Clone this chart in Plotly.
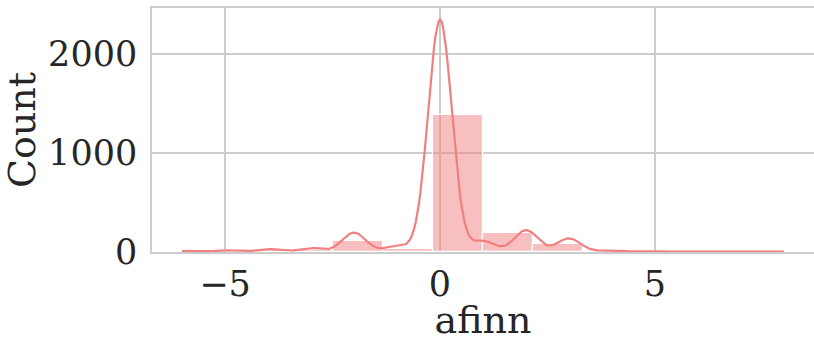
import numpy as np
import plotly.graph_objects as go

# afinn score values and how often each occurs
scores = [-6, -5, -4, -3, -2, -1, 0, 1, 2, 3, 4, 5, 6, 7, 8]
counts = [5, 10, 17, 24, 115, 35, 1384, 65, 130, 81, 11, 5, 4, 3, 3]

n_bins = 12
kde_bandwidth = 0.275

values = np.repeat(scores, counts).astype(float)
lo, hi = values.min(), values.max()
hist_counts, edges = np.histogram(values, bins=n_bins, range=(lo, hi))
bin_w = edges[1] - edges[0]
centers = (edges[:-1] + edges[1:]) / 2

# Gaussian KDE scaled to counts (as seaborn histplot kde=True)
grid = np.linspace(lo, hi, 400)
sc = np.array(scores, float)
cn = np.array(counts, float)
dens = (cn[None, :] * np.exp(-0.5 * ((grid[:, None] - sc[None, :]) / kde_bandwidth) ** 2)
        / (np.sqrt(2 * np.pi) * kde_bandwidth)).sum(axis=1)
kde_counts = dens * bin_w

line_color = "rgb(240,128,128)"
bar_color = "rgba(240,128,128,0.5)"

fig = go.Figure()
fig.add_trace(go.Bar(
    x=centers, y=hist_counts, width=bin_w,
    marker=dict(color=bar_color, line=dict(color="white", width=1.2)),
    hoverinfo="x+y", showlegend=False,
))
fig.add_trace(go.Scatter(
    x=grid, y=kde_counts, mode="lines",
    line=dict(color=line_color, width=2.2), showlegend=False,
))

pad_x = 0.05 * (hi - lo)
ymax = kde_counts.max() * 1.05

font = "DejaVu Serif"
fig.update_layout(
    width=814, height=342,
    margin=dict(l=152, r=0, t=8, b=90),
    paper_bgcolor="white", plot_bgcolor="white",
    font=dict(family=font, color="#262626", size=35),
    bargap=0,
    xaxis=dict(
        range=[lo - pad_x, hi + pad_x],
        tickvals=[-5, 0, 5],
        showgrid=True, gridcolor="#cccccc", gridwidth=1.6,
        showline=True, linecolor="#cccccc", linewidth=1.6, mirror=True,
        zeroline=False, ticks="", automargin=False,
        tickfont=dict(size=35, family=font),
        title=dict(text="afinn", font=dict(size=38, family=font), standoff=4),
        ticklabelstandoff=0,
    ),
    yaxis=dict(
        range=[0, ymax],
        tickvals=[0, 1000, 2000],
        showgrid=True, gridcolor="#cccccc", gridwidth=1.6,
        showline=True, linecolor="#cccccc", linewidth=1.6, mirror=True,
        zeroline=False, ticks="", automargin=False,
        tickfont=dict(size=35, family=font),
        title=dict(text="Count", font=dict(size=38, family=font), standoff=12),
        ticklabelstandoff=6,
    ),
)

fig.write_html("out.html", post_script="document.body.style.margin='0';",
               config={"displayModeBar": False})
